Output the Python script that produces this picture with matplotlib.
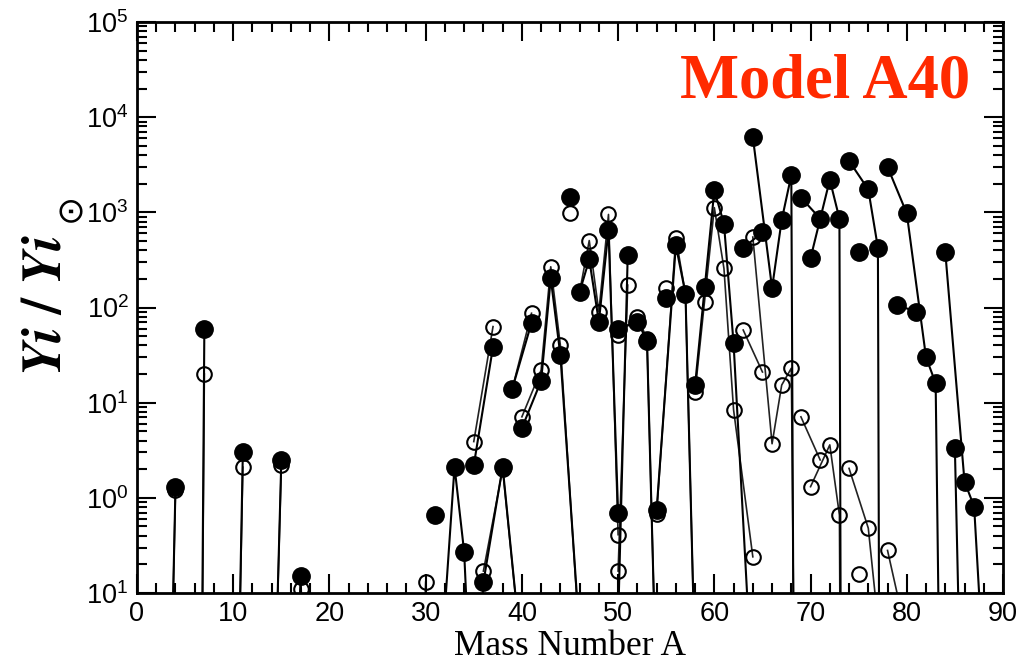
import numpy as np
import matplotlib
matplotlib.use("Agg")
import matplotlib.pyplot as plt
from matplotlib.ticker import MultipleLocator, LogLocator, NullFormatter

# isotopic yield ratios relative to solar, one row per isotope
element = ["He", "He", "Li", "Li", "B", "B", "N", "N", "O", "O", "O",
           "Si", "Si", "Si", "P", "S", "S", "S", "S", "Cl", "Cl",
           "Ar", "Ar", "Ar", "K", "K", "Ca", "Ca", "Ca", "Ca", "Ca", "Ca",
           "Sc", "Ti", "Ti", "Ti", "Ti", "Ti", "V", "V", "Cr", "Cr", "Cr", "Cr",
           "Mn", "Fe", "Fe", "Fe", "Fe", "Co", "Ni", "Ni", "Ni", "Ni", "Ni",
           "Cu", "Cu", "Zn", "Zn", "Zn", "Zn", "Zn", "Ga", "Ga",
           "Ge", "Ge", "Ge", "Ge", "As", "Se", "Se", "Se", "Se",
           "Br", "Br", "Kr", "Kr", "Kr", "Kr", "Kr", "Rb", "Rb",
           "Sr", "Sr", "Sr", "Sr"]
mass = [3, 4, 6, 7, 10, 11, 14, 15, 16, 17, 18,
        28, 29, 30, 31, 32, 33, 34, 36, 35, 37,
        36, 38, 40, 39, 41, 40, 42, 43, 44, 46, 48,
        45, 46, 47, 48, 49, 50, 50, 51, 50, 52, 53, 54,
        55, 54, 56, 57, 58, 59, 58, 60, 61, 62, 64,
        63, 65, 64, 66, 67, 68, 70, 69, 71,
        70, 72, 73, 74, 75, 74, 76, 77, 78,
        79, 81, 78, 80, 82, 83, 84, 85, 87,
        84, 86, 87, 88]
ratio_filled = [3e-5, 1.3, 1e-12, 60, 1.5e-5, 3.0, 5e-4, 2.5, 1e-4, 0.15, 1e-4,
                1e-4, 1e-4, 1e-4, 0.66, 0.07, 2.12, 0.27, 1e-5, 2.2, 38.6,
                0.13, 2.12, 0.02, 14, 69, 5.4, 17, 202, 31.6, 0.036, 1e-4,
                1455, 146, 320, 71, 650, 0.69, 0.05, 355, 60, 71, 45, 0.0074,
                125, 0.74, 450, 140, 0.016, 165, 15.3, 1700, 760, 42, 0.0075,
                420, 620, 6200, 160, 830, 2450, 1e-40, 1430, 860,
                330, 2200, 860, 1e-30, 385, 3470, 1740, 424, 1e-30,
                106, 90, 3000, 975, 30, 16, 2e-7, 3.3, 4e-9,
                385, 1.48, 0.81, 0.014]
ratio_hollow = [3e-5, 1.2, 1e-12, 20, 1.5e-5, 2.1, 5e-4, 2.2, 1e-4, 0.11, 1e-4,
                1e-4, 1e-4, 0.13, 0.66, 1e-3, 1e-3, 1e-3, 1e-3, 3.9, 63,
                0.17, 2.0, 0.02, 14, 87, 7.1, 22, 268, 40, 0.03, 1e-4,
                975, 146, 505, 90, 950, 0.41, 0.17, 172, 51, 80, 47, 0.0074,
                160, 0.68, 540, 140, 0.016, 115, 13, 1120, 257, 8.4, 0.24,
                58, 21, 550, 3.7, 15.3, 23, 1e-20, 7.1, 2.5,
                1.31, 3.6, 0.66, 1e-20, 0.16, 2.04, 0.48, 0.05, 1e-4,
                1e-4, 1e-4, 0.28, 0.035, 1e-4, 1e-4, 1e-4, 1e-4, 1e-4,
                1e-4, 1e-4, 1e-4, 1e-4]

ytick_values = [1e-1, 1e0, 1e1, 1e2, 1e3, 1e4, 1e5]
ytick_labels = ["$10^{1}$", "$10^{0}$", "$10^{1}$", "$10^{2}$",
                "$10^{3}$", "$10^{4}$", "$10^{5}$"]

plt.rcParams["font.family"] = ["Liberation Sans", "DejaVu Sans"]
plt.rcParams["mathtext.fontset"] = "custom"
plt.rcParams["mathtext.rm"] = "Liberation Sans"
plt.rcParams["mathtext.it"] = "Liberation Sans:italic"
plt.rcParams["mathtext.bf"] = "Liberation Sans:bold"

fig = plt.figure(figsize=(10.25, 6.65), dpi=100)
ax = fig.add_axes([137 / 1025, 1 - 593 / 665, 866 / 1025, 571 / 665])

mass = np.array(mass)
ratio_filled = np.array(ratio_filled)
ratio_hollow = np.array(ratio_hollow)
element = np.array(element)

# one polyline per element for each set
names = list(dict.fromkeys(element))
for name in names:
    sel = element == name
    order = np.argsort(mass[sel], kind="stable")
    a = mass[sel][order]
    ax.plot(a, ratio_hollow[sel][order], color="#222222", lw=1.2, zorder=1)
    ax.plot(a, ratio_filled[sel][order], color="black", lw=1.5, zorder=2)

ax.plot(mass, ratio_hollow, ls="none", marker="o", ms=10.5, mfc="none",
        mec="black", mew=1.5, zorder=3)
ax.plot(mass, ratio_filled, ls="none", marker="o", ms=12.5, mfc="black",
        mec="black", zorder=4)

ax.set_yscale("log")
ax.set_xlim(0, 90)
ax.set_ylim(1e-1, 1e5)

ax.xaxis.set_major_locator(MultipleLocator(10))
ax.xaxis.set_minor_locator(MultipleLocator(2))
ax.set_yticks(ytick_values)
ax.set_yticklabels(ytick_labels)
ax.yaxis.set_minor_locator(LogLocator(base=10, subs=np.arange(2, 10), numticks=20))
ax.yaxis.set_minor_formatter(NullFormatter())

ax.tick_params(which="both", direction="in", top=True, right=True, width=1.5)
ax.tick_params(which="major", length=14, labelsize=19.5, pad=6)
ax.tick_params(which="minor", length=7)
for s in ax.spines.values():
    s.set_linewidth(2)

ax.set_xlabel("Mass Number A", family="Liberation Serif", fontsize=25.5, labelpad=2)
ax.set_ylabel(r"$\mathbfit{Yi}\ \mathbf{/}\ \mathbfit{Yi}$",
              fontsize=40, math_fontfamily="stix")
ax.yaxis.set_label_coords(-0.074, 0.505)
# solar symbol set as a subscript next to the axis label
fig.text(70 / 1025, 1 - 207 / 665, "\u2299", family="DejaVu Sans",
         fontsize=25, rotation=90, ha="center", va="center")

ax.text(0.962, 0.867, "Model A40", transform=ax.transAxes, ha="right",
        va="baseline", family="Liberation Serif", weight="bold",
        fontsize=45, color="#ff2a00")

fig.savefig("out.png", dpi=100)
